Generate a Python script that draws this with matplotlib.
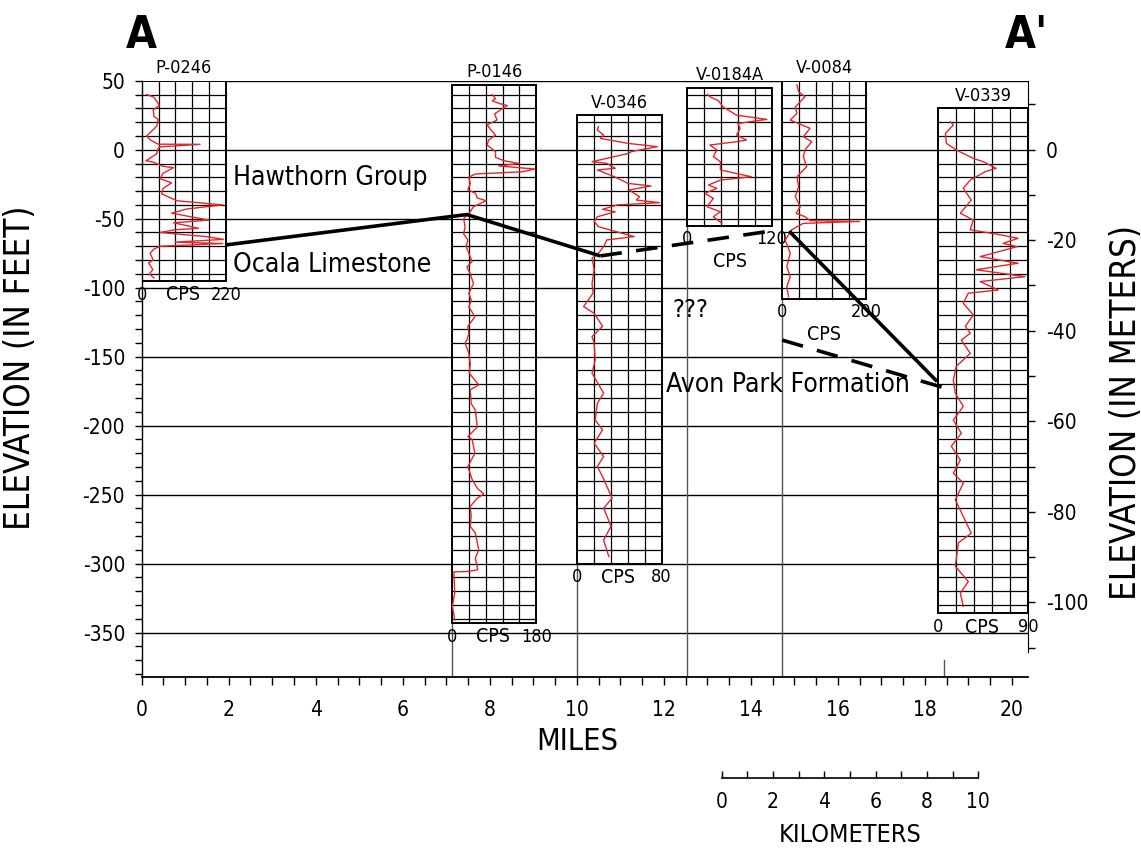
import matplotlib
matplotlib.use('Agg')
import matplotlib.pyplot as plt
from matplotlib.patches import Rectangle
from matplotlib.ticker import MultipleLocator, FixedLocator
import numpy as np

plt.rcParams['font.family'] = ['DejaVu Sans']
plt.rcParams['font.stretch'] = 'condensed'
plt.rcParams['axes.unicode_minus'] = False

# wells: name, location along section (miles), log top / bottom (ft), full-scale CPS
well_names = ['P-0246', 'P-0146', 'V-0346', 'V-0184A', 'V-0084', 'V-0339']
well_miles = [0.0, 7.13, 10.01, 12.54, 14.71, 18.31]
well_top = [50, 47, 25, 45, 50, 30]
well_bottom = [-95, -343, -300, -55, -108, -336]
cps_max = [220, 180, 80, 120, 200, 90]

# gamma logs (elevation ft, counts per second)
p0246_ft = [40, 38, 32, 29, 24, 22, 17, 10, 7, 4, 3.9, 2, 0, -3, -8, -9, -12, -13, -17, -21,
            -24, -28, -32, -37, -40, -43, -46, -51, -53, -55, -57, -58, -60, -63, -65, -67,
            -68, -70, -72, -75, -80, -82, -87, -90, -93]
p0246_cps = [13, 32, 46, 30, 32, 43, 39, 13, 23, 43, 152, 46, 41, 39, 11, 30, 55, 83, 56, 48,
             78, 56, 52, 92, 211, 117, 78, 174, 83, 117, 148, 87, 48, 169, 213, 87,
             211, 48, 32, 22, 30, 18, 29, 20, 32]

p0146_ft = [40, 37, 35.5, 33.6, 32, 28.7, 26, 21.5, 18, 14, 10.6, 7, 3.4, -1.4, -5.6, -8, -10,
            -11.8, -14, -16, -17.6, -20, -24.4, -29, -31.6, -35, -37, -41.3, -45, -50, -56,
            -61, -65.5, -70, -81, -85, -90, -97, -104, -109, -114, -121, -128, -133,
            -138, -140, -147.6, -155, -162, -170.5, -174, -184, -189, -201, -208, -210, -220,
            -229.7, -239, -245.4, -249.5, -252.6, -258.6, -265.8, -273, -278, -290, -296,
            -304.5, -305.7, -306, -321, -331, -341]
p0146_cps = [86, 93, 86, 100, 118, 103, 91, 96, 75, 84, 93, 78, 75, 93, 93, 111, 143,
             100, 177, 150, 50, 36, 39, 34, 50, 54, 73, 46, 39, 25, 28,
             25, 34, 30, 43, 32, 39, 46, 36, 41, 36, 49, 34, 36,
             32, 28, 36, 39, 37, 57, 39, 41, 50, 54, 34, 43, 49,
             34, 43, 54, 68, 54, 39, 41, 39, 50, 57, 50,
             55, 36, 4, 6, 1, 6]

v0346_ft = [16.7, 14.3, 10.6, 8.2, 4.6, 2.2, -1.4, -2.6, -8.7, -9.9, -13.5, -14.7, -19.5, -24.4,
            -26.3, -29.2, -31.6, -34, -36.5, -38.4, -40, -43.2, -45, -48.6, -52, -55.8, -63,
            -65.4, -70.3, -75, -78.7, -87, -97, -104, -113.7, -118.6, -128, -135.5, -140,
            -152.4, -162, -176.5, -183.8, -196, -203, -212.8, -222.4, -229.7, -237, -252.6,
            -259.9, -273, -283, -295]
v0346_cps = [20, 19, 25, 22, 48, 76, 51, 49, 14, 28, 36, 19, 35, 48,
             70, 49, 54, 59, 56, 78, 38, 24, 36, 19, 16, 20, 54,
             28, 25, 20, 14, 16, 14, 15, 6, 16, 24, 14, 16,
             17, 14, 25, 19, 17, 24, 16, 25, 19, 24, 33,
             25, 32, 25, 30]

v0184a_ft = [40, 38.4, 35.5, 31, 25, 22, 19, 15.5, 10.6, 7, 5.8, 3.4, -0.2, -5, -8.7, -14.7,
             -19.6, -22, -25.6, -28, -31.6, -35.3, -41.3, -45, -48.6, -53.4]
v0184a_cps = [29, 32, 44, 51, 70, 113, 72, 75, 70, 84, 70, 32, 42, 37, 47, 47,
              91, 47, 30, 42, 25, 37, 28, 47, 37, 49]

v0084_ft = [46.9, 42, 38.4, 31, 26.3, 21.5, 15.5, 9.4, 5.8, -0.2, -5, -12.3, -19.6, -26.8, -34,
            -41.3, -46, -48.6, -51.4, -52, -53.4, -58, -65.5, -75, -84.8, -92, -99.3, -106.5]
v0084_cps = [36, 40, 55, 32, 36, 20, 67, 51, 71, 55, 51, 59, 36, 40, 32,
             44, 34, 55, 67, 184, 51, 24, 8, 20, 12, 20, 12, 16]

v0339_ft = [20.3, 17.9, 11.8, 4.6, -0.2, -6.3, -8.7, -13.5, -15.9, -22, -28, -36.5, -46, -51, -58,
            -61.8, -64.2, -67.9, -70.3, -77.5, -82.3, -87, -92, -95.6, -101.7, -104, -111.3,
            -119.8, -128, -133, -138, -147.6, -157, -167, -176.6, -186, -196, -205.5, -215,
            -225, -234.5, -241.7, -253.8, -278, -285, -302, -313, -321.5, -331]
v0339_cps = [12, 15, 7, 8, 18, 35, 45, 58, 47, 32, 25, 33, 22, 35, 32,
             63, 80, 65, 79, 42, 80, 38, 87, 42, 60, 30, 25,
             35, 27, 32, 23, 32, 18, 15, 17, 25, 15, 23, 13,
             22, 15, 25, 17, 33, 20, 17, 30, 22, 25]

logs_ft = [p0246_ft, p0146_ft, v0346_ft, v0184a_ft, v0084_ft, v0339_ft]
logs_cps = [p0246_cps, p0146_cps, v0346_cps, v0184a_cps, v0084_cps, v0339_cps]

# formation tops (miles, ft)
top_ocala_x = [1.94, 7.47, 10.54]
top_ocala_y = [-69, -47, -77]
top_ocala_q_x = [10.54, 14.32]
top_ocala_q_y = [-77, -59.6]
top_ocala_e_x = [14.88, 18.28]
top_ocala_e_y = [-59, -168]
top_avon_x = [14.72, 18.70]
top_avon_y = [-138, -175]

formations = ['Hawthorn Group', 'Ocala Limestone', 'Avon Park Formation']
formation_x = [2.1, 2.1, 12.05]
formation_y = [-20.6, -83.6, -170.5]

FT_TO_M = 0.3048
LOG_W = 1.94
W, H = 1141, 857

fig = plt.figure(figsize=(11.41, 8.57), dpi=100)
ax = fig.add_axes([0.1242, 0.2104, 0.7768, 0.6954])
ax.set_xlim(0, 20.37)
ax.set_ylim(-382, 50)

for s in ['top', 'right']:
    ax.spines[s].set_visible(False)
ax.spines['left'].set_linewidth(1.0)
ax.spines['bottom'].set_linewidth(1.3)

ax.xaxis.set_major_locator(MultipleLocator(2))
ax.xaxis.set_minor_locator(MultipleLocator(0.5))
ax.yaxis.set_major_locator(MultipleLocator(50))
ax.yaxis.set_minor_locator(MultipleLocator(10))
ax.tick_params(axis='x', which='both', direction='out', length=6, width=1, labelsize=15, pad=11)
ax.tick_params(axis='y', which='both', direction='out', length=5, width=1, labelsize=15, pad=7)
ax.grid(True, axis='y', which='major', color='black', lw=1.0)
ax.set_axisbelow(True)

ax2 = ax.twinx()
ax2.set_ylim(-382 * FT_TO_M, 50 * FT_TO_M)
for s in ['top', 'left', 'bottom']:
    ax2.spines[s].set_visible(False)
ax2.spines['right'].set_bounds(-111, 50 * FT_TO_M)
ax2.yaxis.set_major_locator(FixedLocator([0, -20, -40, -60, -80, -100]))
ax2.yaxis.set_minor_locator(FixedLocator([10, -10, -30, -50, -70, -90, -110]))
ax2.tick_params(axis='y', which='both', direction='out', length=5, width=1, labelsize=15, pad=8)

# axis titles
fig.text(577 / W, 1 - 742 / H, 'MILES', fontsize=22, ha='center', va='center')
fig.text(20 / W, 1 - 368 / H, 'ELEVATION (IN FEET)', fontsize=25, rotation=90,
         ha='center', va='center')
fig.text(1126 / W, 1 - 412 / H, 'ELEVATION (IN METERS)', fontsize=25, rotation=90,
         ha='center', va='center')

# well location lines below each log
for i in range(1, 5):
    ax.plot([well_miles[i]] * 2, [-382, well_bottom[i]], color='#555555', lw=1.0, zorder=1)
ax.plot([18.45, 18.45], [-382, -370], color='#555555', lw=1.0, zorder=1)

for i, name in enumerate(well_names):
    x0 = well_miles[i]
    w = LOG_W if i < 5 else 2.06
    top, bot = well_top[i], well_bottom[i]
    ax.add_patch(Rectangle((x0, bot), w, top - bot, facecolor='white', edgecolor='black',
                           lw=1.4, zorder=2))
    for k in range(1, 5):
        ax.plot([x0 + k * w / 5] * 2, [bot, top], color='black', lw=0.9, zorder=3)
    for y in np.arange(np.ceil(bot / 10) * 10, top, 10):
        if y > bot:
            ax.plot([x0, x0 + w], [y, y], color='black', lw=0.9, zorder=3)
    ax.plot(x0 + np.array(logs_cps[i]) / cps_max[i] * w, logs_ft[i], color='#e3262d',
            lw=1.0, zorder=4)

    ax.text(x0 + w / 2, top + 9, name, ha='center', va='center', fontsize=13, clip_on=False)
    ly = bot - 10
    ax.text(x0, ly, '0', ha='center', va='center', fontsize=13, clip_on=False)
    ax.text(x0 + w, ly, str(cps_max[i]), ha='center', va='center', fontsize=13, clip_on=False)
    if name in ('V-0184A', 'V-0084'):
        ax.text(x0 + w / 2, ly - 16, 'CPS', ha='center', va='center', fontsize=14)
    else:
        ax.text(x0 + w / 2 - 0.03, ly, 'CPS', ha='center', va='center', fontsize=14)

# formation boundaries
ax.plot(top_ocala_x, top_ocala_y, color='black', lw=2.6, zorder=5, solid_capstyle='butt')
ax.plot(top_ocala_q_x, top_ocala_q_y, color='black', lw=2.6, ls=(0, (6, 4)), zorder=5)
ax.plot(top_ocala_e_x, top_ocala_e_y, color='black', lw=2.6, zorder=5, solid_capstyle='butt')
ax.plot(top_avon_x, top_avon_y, color='black', lw=2.6, ls=(0, (6, 4)), zorder=5)

for name, fx, fy in zip(formations, formation_x, formation_y):
    ax.text(fx, fy, name, ha='left', va='center', fontsize=19, zorder=6)
ax.text(12.6, -116, '???', ha='center', va='center', fontsize=18, zorder=6)

fig.text(141 / W, 1 - 35 / H, 'A', fontsize=32, fontweight='bold', ha='center', va='center')
fig.text(1026 / W, 1 - 35 / H, "A'", fontsize=32, fontweight='bold', ha='center', va='center')

# kilometre scale bar
sb = fig.add_axes([721.7 / W, 1 - 778.3 / H, 256.6 / W, 0.0005])
sb.set_xlim(0, 10)
sb.set_yticks([])
for s in ['top', 'left', 'right']:
    sb.spines[s].set_visible(False)
sb.spines['bottom'].set_linewidth(1.2)
sb.xaxis.set_major_locator(MultipleLocator(2))
sb.xaxis.set_minor_locator(MultipleLocator(1))
sb.tick_params(axis='x', which='both', direction='in', length=5, width=1, labelsize=15, pad=10)
sb.tick_params(axis='x', which='both', top=False, bottom=True)
sb.set_xlabel('KILOMETERS', fontsize=18, labelpad=8)

fig.savefig('out.png', dpi=100)
